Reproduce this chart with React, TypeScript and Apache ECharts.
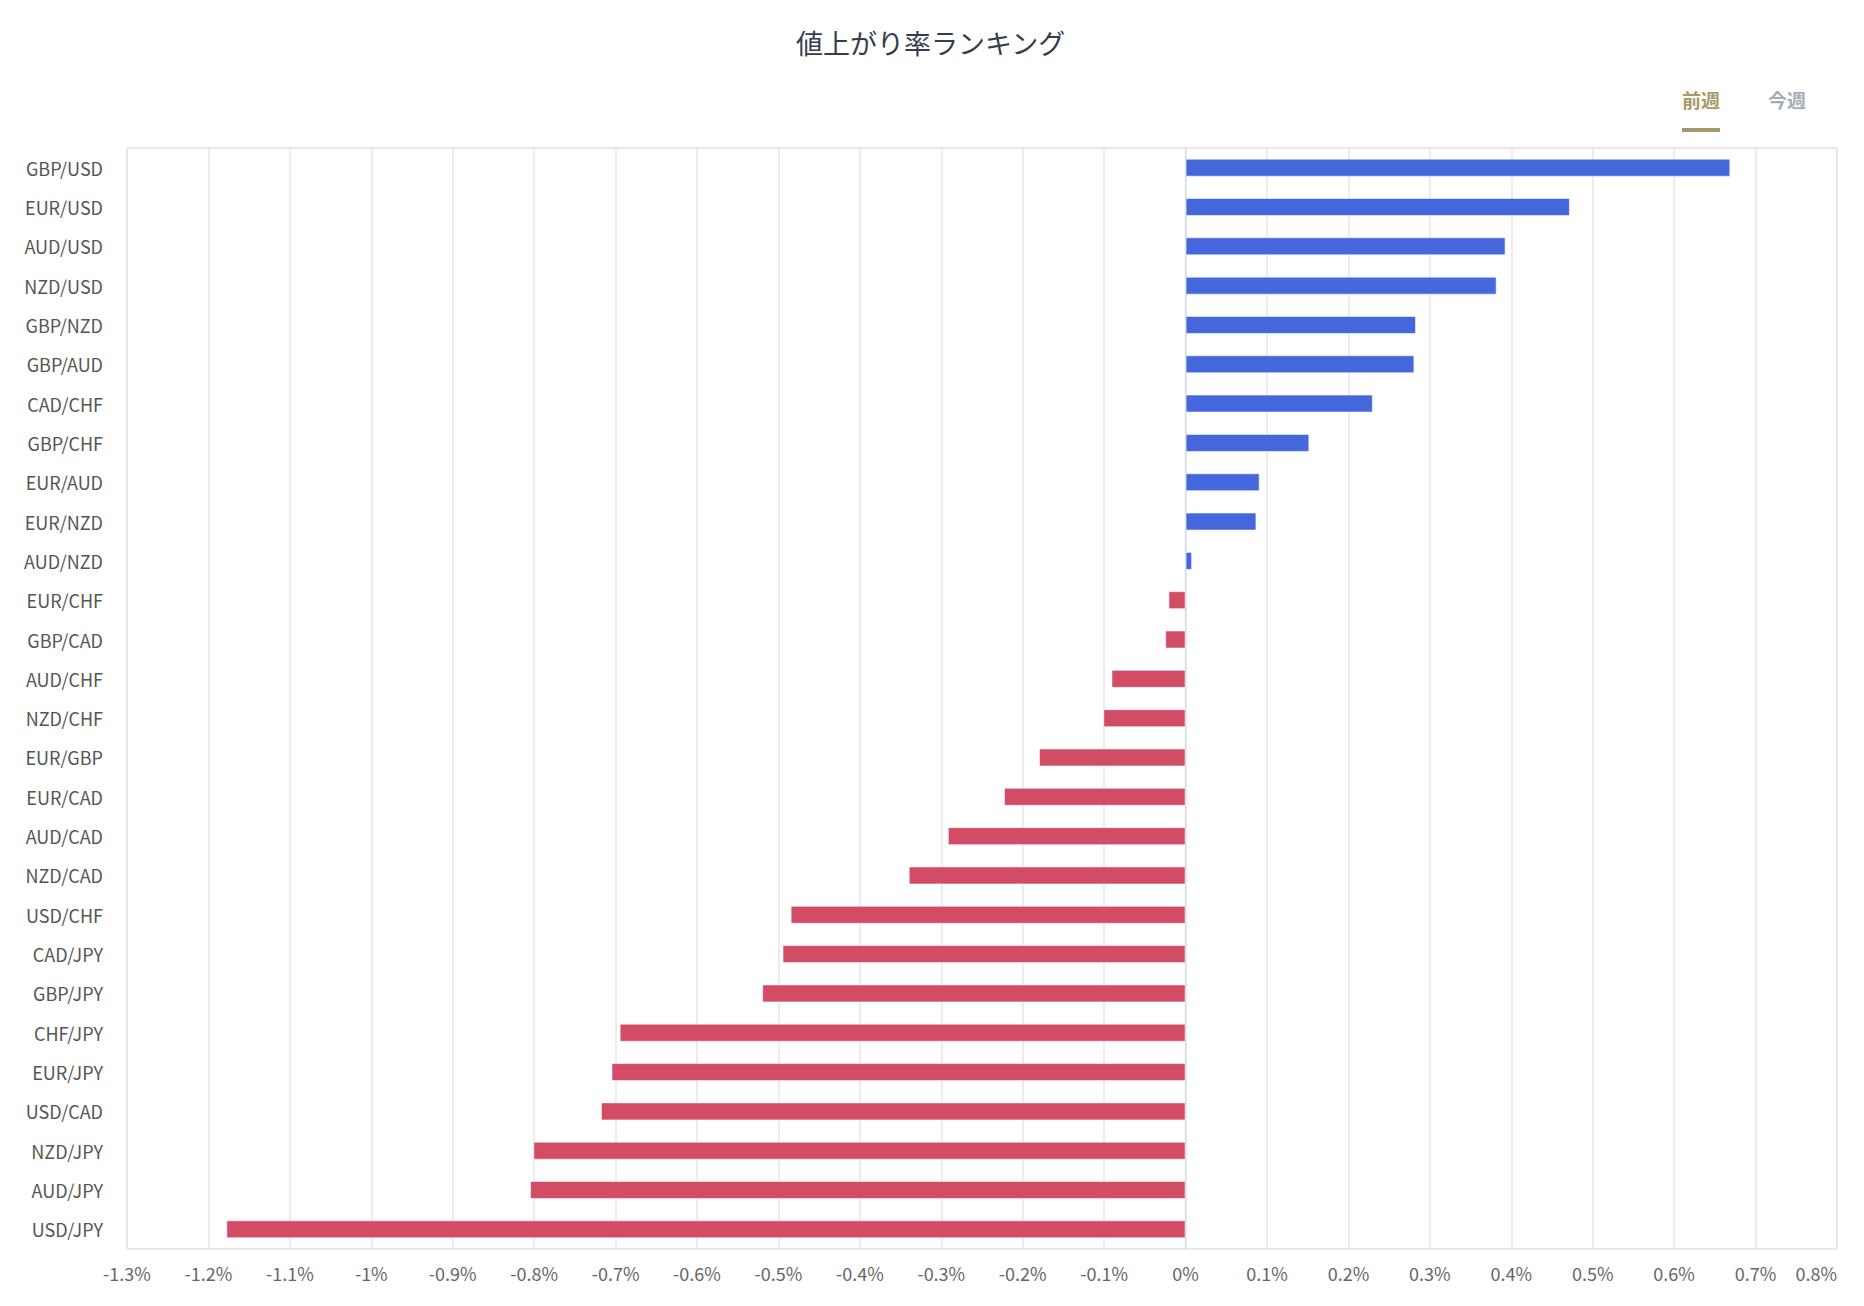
import React, { useEffect, useRef } from "react";
import * as echarts from "echarts";

const categories = [
  "GBP/USD", "EUR/USD", "AUD/USD", "NZD/USD", "GBP/NZD", "GBP/AUD", "CAD/CHF",
  "GBP/CHF", "EUR/AUD", "EUR/NZD", "AUD/NZD", "EUR/CHF", "GBP/CAD", "AUD/CHF",
  "NZD/CHF", "EUR/GBP", "EUR/CAD", "AUD/CAD", "NZD/CAD", "USD/CHF", "CAD/JPY",
  "GBP/JPY", "CHF/JPY", "EUR/JPY", "USD/CAD", "NZD/JPY", "AUD/JPY", "USD/JPY",
];

const values = [
  0.669, 0.472, 0.393, 0.382, 0.283, 0.281, 0.230,
  0.152, 0.091, 0.087, 0.008, -0.021, -0.025, -0.091,
  -0.101, -0.180, -0.223, -0.292, -0.340, -0.485, -0.495,
  -0.520, -0.695, -0.705, -0.718, -0.801, -0.805, -1.178,
];

const titleText = "値上がり率ランキング";
const tabLabels = ["前週", "今週"];

const FONT = "'Noto Sans CJK JP', 'Noto Sans', sans-serif";
const POS_COLOR = "#4468db";
const NEG_COLOR = "#d34c65";

export default function App() {
  const ref = useRef<HTMLDivElement>(null);

  useEffect(() => {
    if (!ref.current) return;
    const chart = echarts.init(ref.current, undefined, { renderer: "svg" });
    chart.setOption({
      animation: false,
      backgroundColor: "#ffffff",
      textStyle: { fontFamily: FONT },
      title: {
        text: titleText,
        left: 791,
        top: 24,
        textStyle: {
          fontFamily: FONT,
          fontSize: 27,
          fontWeight: "normal",
          color: "#333d4d",
        },
      },
      graphic: [
        {
          type: "text",
          left: 1682,
          top: 90,
          style: {
            text: tabLabels[0],
            fontFamily: FONT,
            fontSize: 19,
            fontWeight: "bold",
            fill: "#a8996a",
          },
        },
        {
          type: "rect",
          shape: { x: 1682, y: 128, width: 38, height: 4 },
          style: { fill: "#a8996a" },
        },
        {
          type: "text",
          left: 1768,
          top: 90,
          style: {
            text: tabLabels[1],
            fontFamily: FONT,
            fontSize: 19,
            fontWeight: "bold",
            fill: "#a4adb6",
          },
        },
      ],
      grid: {
        left: 127,
        right: 27,
        top: 148,
        bottom: 57,
        show: true,
        borderColor: "#d0d0d0",
        borderWidth: 1,
      },
      xAxis: {
        type: "value",
        min: -1.3,
        max: 0.8,
        interval: 0.1,
        axisLine: { show: false },
        axisTick: { show: false },
        splitLine: { show: true, lineStyle: { color: "#e6e6e6", width: 1.5 } },
        axisLabel: {
          margin: 15,
          fontSize: 18,
          color: "#666666",
          fontFamily: FONT,
          alignMaxLabel: "right",
          formatter: (v: number) => `${parseFloat(v.toFixed(1))}%`,
        },
      },
      yAxis: {
        type: "category",
        data: categories,
        inverse: true,
        axisTick: { show: false },
        axisLine: { show: true, lineStyle: { color: "#ccd6eb", width: 1 } },
        splitLine: { show: false },
        axisLabel: {
          margin: 24,
          fontSize: 18,
          color: "#555555",
          fontFamily: FONT,
        },
      },
      series: [
        {
          type: "bar",
          data: values,
          barWidth: 18,
          itemStyle: {
            color: (p: any) => (p.value >= 0 ? POS_COLOR : NEG_COLOR),
            borderColor: "rgba(255,255,255,0.55)",
            borderWidth: 1,
          },
        },
      ],
    });
    return () => chart.dispose();
  }, []);

  return (
    <div
      ref={ref}
      style={{ position: "fixed", left: 0, top: 0, width: 1864, height: 1306 }}
    />
  );
}
